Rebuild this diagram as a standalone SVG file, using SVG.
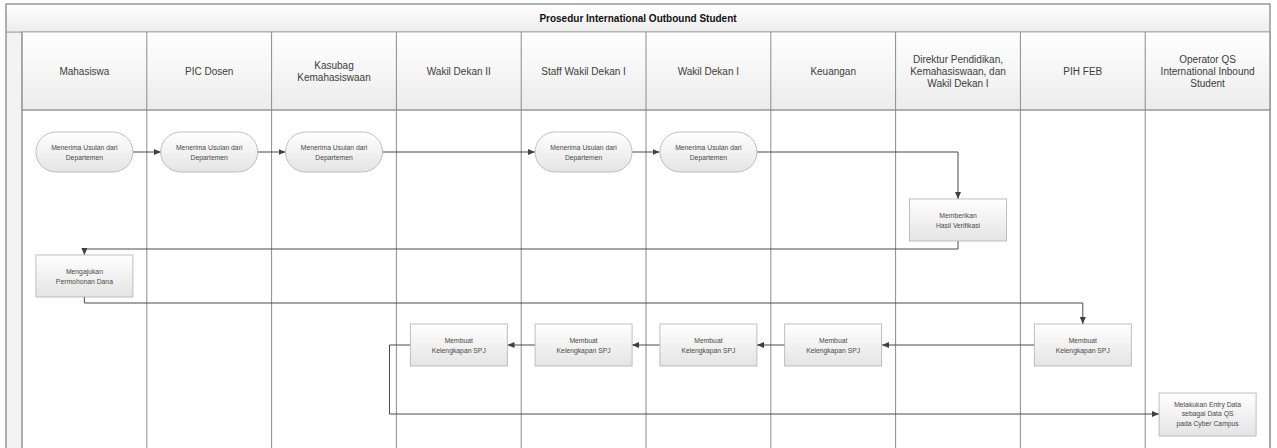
<svg xmlns="http://www.w3.org/2000/svg" width="1277" height="448" viewBox="0 0 1277 448">
<defs>
<linearGradient id="gHead" x1="0" y1="0" x2="0" y2="1">
<stop offset="0" stop-color="#ffffff"/><stop offset="1" stop-color="#ececec"/>
</linearGradient>
<linearGradient id="gNode" x1="0" y1="0" x2="0" y2="1">
<stop offset="0" stop-color="#ffffff"/><stop offset="1" stop-color="#e4e4e4"/>
</linearGradient>
<marker id="arr" markerWidth="7" markerHeight="6" refX="7" refY="3" orient="auto" markerUnits="userSpaceOnUse">
<path d="M0,0 L7,3 L0,6 z" fill="#404040"/>
</marker>
<style>
.frame{fill:none;stroke:#8c8c8c;stroke-width:1}
.lane{stroke:#8c8c8c;stroke-width:1;fill:none}
.head{fill:url(#gHead);stroke:#9a9a9a;stroke-width:0.8}
.htxt{font-family:"Liberation Sans",Arial,sans-serif;font-size:10px;fill:#3c3c3c;text-anchor:middle}
.title{font-family:"Liberation Sans",Arial,sans-serif;font-size:10px;font-weight:bold;fill:#111;text-anchor:middle}
.node{fill:url(#gNode);stroke:#b0b0b0;stroke-width:0.8}
.ntxt{font-family:"Liberation Sans",Arial,sans-serif;font-size:6.8px;fill:#4a4a4a;text-anchor:middle}
.conn{fill:none;stroke:#4a4a4a;stroke-width:1}
</style>
</defs>
<rect width="1277" height="448" fill="#ffffff"/>
<g id="pool">
<rect x="6" y="32" width="16" height="420" fill="#f3f3f3" stroke="#9a9a9a" stroke-width="0.8"/>
<rect class="head" x="6" y="4" width="1264" height="28"/>
<text class="title" x="638" y="21.5">Prosedur International Outbound Student</text>
<rect class="frame" x="6" y="4" width="1264" height="450"/>
</g>
<g id="lanes">
<rect class="head" x="22" y="32" width="1248" height="78"/>
<g class="lane">
<line x1="22" y1="32" x2="22" y2="448"/>
<line x1="146.8" y1="32" x2="146.8" y2="448"/>
<line x1="271.6" y1="32" x2="271.6" y2="448"/>
<line x1="396.4" y1="32" x2="396.4" y2="448"/>
<line x1="521.2" y1="32" x2="521.2" y2="448"/>
<line x1="646" y1="32" x2="646" y2="448"/>
<line x1="770.8" y1="32" x2="770.8" y2="448"/>
<line x1="895.6" y1="32" x2="895.6" y2="448"/>
<line x1="1020.4" y1="32" x2="1020.4" y2="448"/>
<line x1="1145.2" y1="32" x2="1145.2" y2="448"/>
<line x1="1270" y1="32" x2="1270" y2="448"/>
<line x1="22" y1="110" x2="1270" y2="110"/>
</g>
<text class="htxt" x="84.4" y="74.5">Mahasiswa</text>
<text class="htxt" x="209.2" y="74.5">PIC Dosen</text>
<text class="htxt" x="334" y="68.5">Kasubag</text>
<text class="htxt" x="334" y="80.5">Kemahasiswaan</text>
<text class="htxt" x="458.8" y="74.5">Wakil Dekan II</text>
<text class="htxt" x="583.6" y="74.5">Staff Wakil Dekan I</text>
<text class="htxt" x="708.4" y="74.5">Wakil Dekan I</text>
<text class="htxt" x="833.2" y="74.5">Keuangan</text>
<text class="htxt" x="958" y="62.5">Direktur Pendidikan,</text>
<text class="htxt" x="958" y="74.5">Kemahasiswaan, dan</text>
<text class="htxt" x="958" y="86.5">Wakil Dekan I</text>
<text class="htxt" x="1082.8" y="74.5">PIH FEB</text>
<text class="htxt" x="1207.6" y="62.5">Operator QS</text>
<text class="htxt" x="1207.6" y="74.5">International Inbound</text>
<text class="htxt" x="1207.6" y="86.5">Student</text>
</g>
<g id="connectors">
<path class="conn" d="M133,152 H161" marker-end="url(#arr)"/>
<path class="conn" d="M258,152 H285.5" marker-end="url(#arr)"/>
<path class="conn" d="M382.5,152 H535" marker-end="url(#arr)"/>
<path class="conn" d="M632,152 H659.5" marker-end="url(#arr)"/>
<path class="conn" d="M757,152 H958 V199" marker-end="url(#arr)"/>
<path class="conn" d="M958,241 V249 H84.4 V255" marker-end="url(#arr)"/>
<path class="conn" d="M84.4,297 V303 H1082.8 V324" marker-end="url(#arr)"/>
<path class="conn" d="M1034,345 H882" marker-end="url(#arr)"/>
<path class="conn" d="M785,345 H757" marker-end="url(#arr)"/>
<path class="conn" d="M660,345 H632" marker-end="url(#arr)"/>
<path class="conn" d="M535,345 H507.5" marker-end="url(#arr)"/>
<path class="conn" d="M410.5,345 H389.5 V414 H1159" marker-end="url(#arr)"/>
</g>
<g id="n1">
<rect class="node" x="35.9" y="132" width="97" height="40" rx="20"/>
<text class="ntxt" x="84.4" y="150">Menerima Usulan dari</text>
<text class="ntxt" x="84.4" y="159.5">Departemen</text>
</g>
<g id="n2">
<rect class="node" x="160.7" y="132" width="97" height="40" rx="20"/>
<text class="ntxt" x="209.2" y="150">Menerima Usulan dari</text>
<text class="ntxt" x="209.2" y="159.5">Departemen</text>
</g>
<g id="n3">
<rect class="node" x="285.5" y="132" width="97" height="40" rx="20"/>
<text class="ntxt" x="334" y="150">Menerima Usulan dari</text>
<text class="ntxt" x="334" y="159.5">Departemen</text>
</g>
<g id="n4">
<rect class="node" x="535.1" y="132" width="97" height="40" rx="20"/>
<text class="ntxt" x="583.6" y="150">Menerima Usulan dari</text>
<text class="ntxt" x="583.6" y="159.5">Departemen</text>
</g>
<g id="n5">
<rect class="node" x="659.9" y="132" width="97" height="40" rx="20"/>
<text class="ntxt" x="708.4" y="150">Menerima Usulan dari</text>
<text class="ntxt" x="708.4" y="159.5">Departemen</text>
</g>
<g id="n6">
<rect class="node" x="909.5" y="199" width="97" height="42"/>
<text class="ntxt" x="958" y="218">Memberikan</text>
<text class="ntxt" x="958" y="227.5">Hasil Verifikasi</text>
</g>
<g id="n7">
<rect class="node" x="35.9" y="255" width="97" height="42"/>
<text class="ntxt" x="84.4" y="274">Mengajukan</text>
<text class="ntxt" x="84.4" y="283.5">Permohonan Dana</text>
</g>
<g id="n8">
<rect class="node" x="1034.3" y="324" width="97" height="42"/>
<text class="ntxt" x="1082.8" y="343">Membuat</text>
<text class="ntxt" x="1082.8" y="352.5">Kelengkapan SPJ</text>
</g>
<g id="n9">
<rect class="node" x="784.7" y="324" width="97" height="42"/>
<text class="ntxt" x="833.2" y="343">Membuat</text>
<text class="ntxt" x="833.2" y="352.5">Kelengkapan SPJ</text>
</g>
<g id="n10">
<rect class="node" x="659.9" y="324" width="97" height="42"/>
<text class="ntxt" x="708.4" y="343">Membuat</text>
<text class="ntxt" x="708.4" y="352.5">Kelengkapan SPJ</text>
</g>
<g id="n11">
<rect class="node" x="535.1" y="324" width="97" height="42"/>
<text class="ntxt" x="583.6" y="343">Membuat</text>
<text class="ntxt" x="583.6" y="352.5">Kelengkapan SPJ</text>
</g>
<g id="n12">
<rect class="node" x="410.3" y="324" width="97" height="42"/>
<text class="ntxt" x="458.8" y="343">Membuat</text>
<text class="ntxt" x="458.8" y="352.5">Kelengkapan SPJ</text>
</g>
<g id="n13">
<rect class="node" x="1159.1" y="393" width="97" height="43"/>
<text class="ntxt" x="1207.6" y="406.5">Melakukan Entry Data</text>
<text class="ntxt" x="1207.6" y="416">sebagai Data QS</text>
<text class="ntxt" x="1207.6" y="425.5">pada Cyber Campus</text>
</g>
</svg>
